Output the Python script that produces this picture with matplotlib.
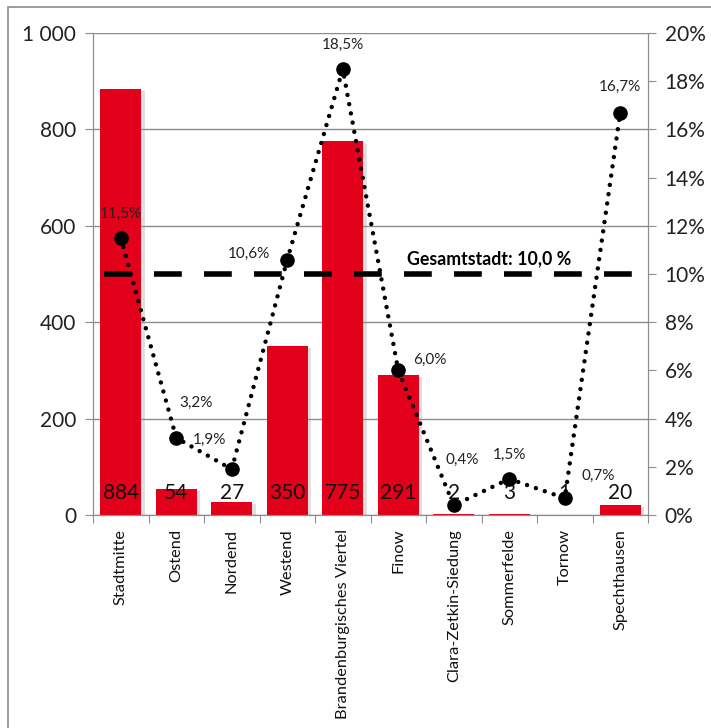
import matplotlib.pyplot as plt
import matplotlib.patheffects as pe
from matplotlib.ticker import FuncFormatter, MultipleLocator
from matplotlib.patches import Rectangle

plt.rcParams["font.family"] = ["Lato", "DejaVu Sans"]

districts = ["Stadtmitte", "Ostend", "Nordend", "Westend", "Brandenburgisches Viertel",
             "Finow", "Clara-Zetkin-Siedung", "Sommerfelde", "Tornow", "Spechthausen"]
counts = [884, 54, 27, 350, 775, 291, 2, 3, 1, 20]
shares = [11.5, 3.2, 1.9, 10.6, 18.5, 6.0, 0.4, 1.5, 0.7, 16.7]
share_labels = ["11,5%", "3,2%", "1,9%", "10,6%", "18,5%", "6,0%", "0,4%", "1,5%", "0,7%", "16,7%"]
city_share = 10.0

# label offsets in pixels (dx, dy) from each marker
offsets = [(0, 24), (20, 35), (-22, 29), (-38, 6), (0, 24),
           (32, 11), (8, 45), (0, 24), (33, 22), (0, 26)]

red = "#E2001A"
grid_col = "#8c8c8c"

fig = plt.figure(figsize=(7.11, 7.28), dpi=100)
fig.patches.append(Rectangle((8 / 711, -0.1), 1.2, 1 - 7 / 728 + 0.1, transform=fig.transFigure,
                             fill=False, edgecolor="#8c8c8c", linewidth=1.2))
ax = fig.add_axes([93 / 711, 1 - 515 / 728, 555 / 711, 482 / 728])
ax2 = ax.twinx()

x = range(len(districts))
bars = ax.bar(x, counts, width=0.74, color=red, zorder=2)
for b in bars:
    b.set_path_effects([pe.SimplePatchShadow(offset=(2.5, -1.5), shadow_rgbFace="#999999", alpha=0.3),
                        pe.Normal()])
for i, c in enumerate(counts):
    ax.text(i, 45, str(c), ha="center", va="center", fontsize=15, color="#111111", zorder=3)

ax.set_xlim(-0.5, len(districts) - 0.5)
ax.set_ylim(0, 1000)
ax.yaxis.set_major_locator(MultipleLocator(200))
ax.yaxis.set_major_formatter(FuncFormatter(lambda v, p: f"{int(v):,}".replace(",", " ")))
ax.grid(axis="y", color=grid_col, linewidth=1, zorder=0)
ax.set_axisbelow(True)
ax.set_xticks([i + 0.5 for i in range(-1, len(districts))], minor=False)
ax.set_xticklabels([])
ax.set_xticks(list(x), minor=True)
ax.set_xticklabels(districts, minor=True, rotation=90, fontsize=11.8, color="#111111")
ax.tick_params(axis="x", which="minor", length=0, pad=10)
ax.tick_params(axis="x", which="major", length=6, color=grid_col, direction="out")
ax.tick_params(axis="y", length=6, color=grid_col, labelsize=15, labelcolor="#222222", pad=6)

ax2.set_ylim(0, 20)
ax2.yaxis.set_major_locator(MultipleLocator(2))
ax2.yaxis.set_major_formatter(FuncFormatter(lambda v, p: f"{int(v)}%"))
ax2.tick_params(axis="y", length=6, color=grid_col, labelsize=15, labelcolor="#222222", pad=6)

for a in (ax, ax2):
    a.spines["top"].set_visible(False)
    for s in ("left", "right", "bottom"):
        a.spines[s].set_color(grid_col)

ax2.axhline(city_share, xmin=0.02, xmax=1, color="black", linewidth=4, linestyle=(0, (5, 4)), zorder=3)
ax2.text(5.16, city_share + 0.65, "Gesamtstadt: 10,0 %", fontsize=12.8, fontweight="bold",
         ha="left", va="center")

ax2.plot(x, shares, color="black", linestyle=(0, (0.01, 2.1)), linewidth=3.2, dash_capstyle="round",
         marker="o", markersize=9.5, zorder=4)
for i, (v, lab) in enumerate(zip(shares, share_labels)):
    dx, dy = offsets[i]
    ax2.annotate(lab, (i, v), xytext=(dx, dy), textcoords="offset pixels",
                 ha="center", va="center", fontsize=11, color="#222222")

fig.savefig("out.png", dpi=100)
